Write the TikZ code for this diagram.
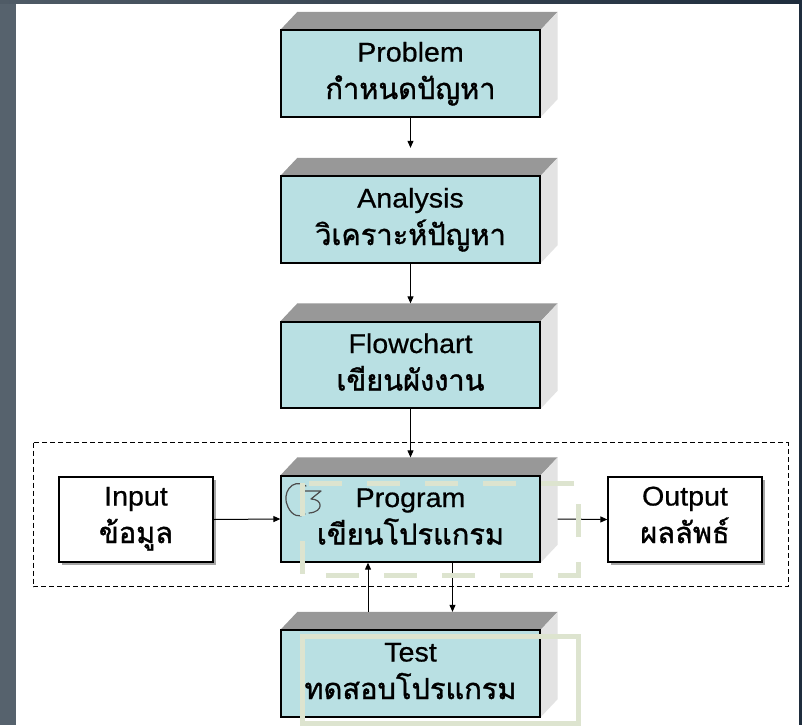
\documentclass[tikz,border=0pt]{standalone}
\usepackage{fontspec}
\setmainfont{Liberation Sans}
\newfontfamily\latinfont[FakeStretch=1.06, FakeBold=0.6]{Liberation Sans}
\newfontfamily\thaifont[Script=Thai, FakeBold=1.2]{Loma}
\usetikzlibrary{arrows.meta}

\definecolor{boxfill}{HTML}{B9E0E3}
\definecolor{topgray}{HTML}{989898}
\definecolor{sidegray}{HTML}{E3E3E3}
\definecolor{paleolive}{HTML}{DDE4CF}
\definecolor{slateleft}{HTML}{56626D}
\definecolor{slatetop}{HTML}{4F5B66}
\definecolor{slatedark}{HTML}{1F2D3D}

\tikzset{
  frontface/.style={draw=black, line width=1.3pt, fill=boxfill, minimum width=259pt,
    minimum height=86pt, inner sep=0pt},
  plainbox/.style={draw=black, line width=1.3pt, fill=white, minimum width=154pt,
    minimum height=85pt, inner sep=0pt},
  topface/.style={fill=topgray},
  sideface/.style={fill=sidegray},
  entext/.style={anchor=base, inner sep=0pt, font=\latinfont\fontsize{27}{32}\selectfont},
  thtext/.style={anchor=base, inner sep=0pt, font=\thaifont\fontsize{29}{34}\selectfont},
  arr/.style={line width=1pt, -{Triangle[length=7pt,width=6pt]}},
  groupframe/.style={draw=black, line width=0.9pt, dash pattern=on 5pt off 3pt},
  overlaydash/.style={draw=paleolive, line width=5pt, dash pattern=on 33pt off 25pt},
  overlaysolid/.style={draw=paleolive, line width=5pt},
}

% a raised step box: front face with a grey top and a light right side
\newcommand\raisedbox[5]{%
  \node[frontface] (#1) at (#2,#3) {};
  \fill[topface] (#1.north west) -- ++(17,-18) -- ([xshift=17pt,yshift=18pt]#1.north east)
    -- (#1.north east) -- cycle;
  \fill[sideface] (#1.north east) -- ++(17,-18) -- ([xshift=17pt,yshift=18pt]#1.south east)
    -- (#1.south east) -- cycle;
  \draw[black, line width=1.3pt] (#1.north west) rectangle (#1.south east);
  \node[entext] (#1-en) at ([yshift=12pt]#1.center) {#4};
  \node[thtext] (#1-th) at ([yshift=-25.5pt]#1.center) {#5};
}

% a flat box with a small drop shadow
\newcommand\flatbox[5]{%
  \fill[gray!70] (#2-74,#3-40) rectangle (#2+80,#3+45.5);
  \node[plainbox] (#1) at (#2,#3) {};
  \node[entext] (#1-en) at ([yshift=14pt]#1.center) {#4};
  \node[thtext] (#1-th) at ([yshift=-23.5pt]#1.center) {#5};
}

\begin{document}
\begin{tikzpicture}[x=1pt, y=-1pt]
  \useasboundingbox (0,0) rectangle (802,725);

  % slide background and frame bands
  \fill[white] (0,0) rectangle (802,725);
  \fill[slateleft] (0,0) rectangle (16,725);
  \shade[left color=slatetop, right color=slatedark] (0,0) rectangle (802,4);
  \fill[slatedark] (799,0) rectangle (802,725);

  % dashed frame around the program stage
  \draw[groupframe] (33,442.5) rectangle (788,586.5);

  % main column of steps
  \raisedbox{problem}{410.5}{73.5}{Problem}{กำหนดปัญหา}
  \raisedbox{analysis}{410.5}{219.5}{Analysis}{วิเคราะห์ปัญหา}
  \raisedbox{flowchart}{410.5}{365}{Flowchart}{เขียนผังงาน}
  \raisedbox{program}{410.5}{519}{Program}{เขียนโปรแกรม}
  \raisedbox{test}{410.5}{673.5}{Test}{ทดสอบโปรแกรม}

  % input and output beside the program step
  \flatbox{input}{136}{519.5}{Input}{ข้อมูล}
  \flatbox{output}{685}{519.5}{Output}{ผลลัพธ์}

  % connectors
  \draw[arr, shorten >=10pt] (problem.south) -- ([yshift=18pt]analysis.north);
  \draw[arr] (analysis.south) -- ([yshift=18pt]flowchart.north);
  \draw[arr] (flowchart.south) -- ([yshift=18pt]program.north);
  \draw[arr] (input.east) -- (program.west);
  \draw[arr] ([xshift=17pt]program.east) -- (output.west);
  \draw[arr] ([xshift=42pt]program.south) -- ([xshift=42pt,yshift=18pt]test.north);
  \draw[arr] ([xshift=-42.5pt,yshift=18pt]test.north) -- ([xshift=-42.5pt]program.south);

  % curled mark in the program step
  \draw[black!70, line width=1.2pt, line cap=round]
    (306,486) .. controls (292,477) and (281,494) .. (288,507)
    .. controls (292,516) and (300,518) .. (305,514);
  \draw[black!70, line width=1.2pt, line cap=round, line join=round]
    (305,491) -- (321,491) -- (311,499) .. controls (323,499) and (324,512) .. (309,513);

  % pale outlines laid over the program and test steps
  \draw[overlaydash] (302,483) rectangle (578,575);
  \draw[overlaysolid] (302,636) rectangle (578,723);
\end{tikzpicture}
\end{document}
